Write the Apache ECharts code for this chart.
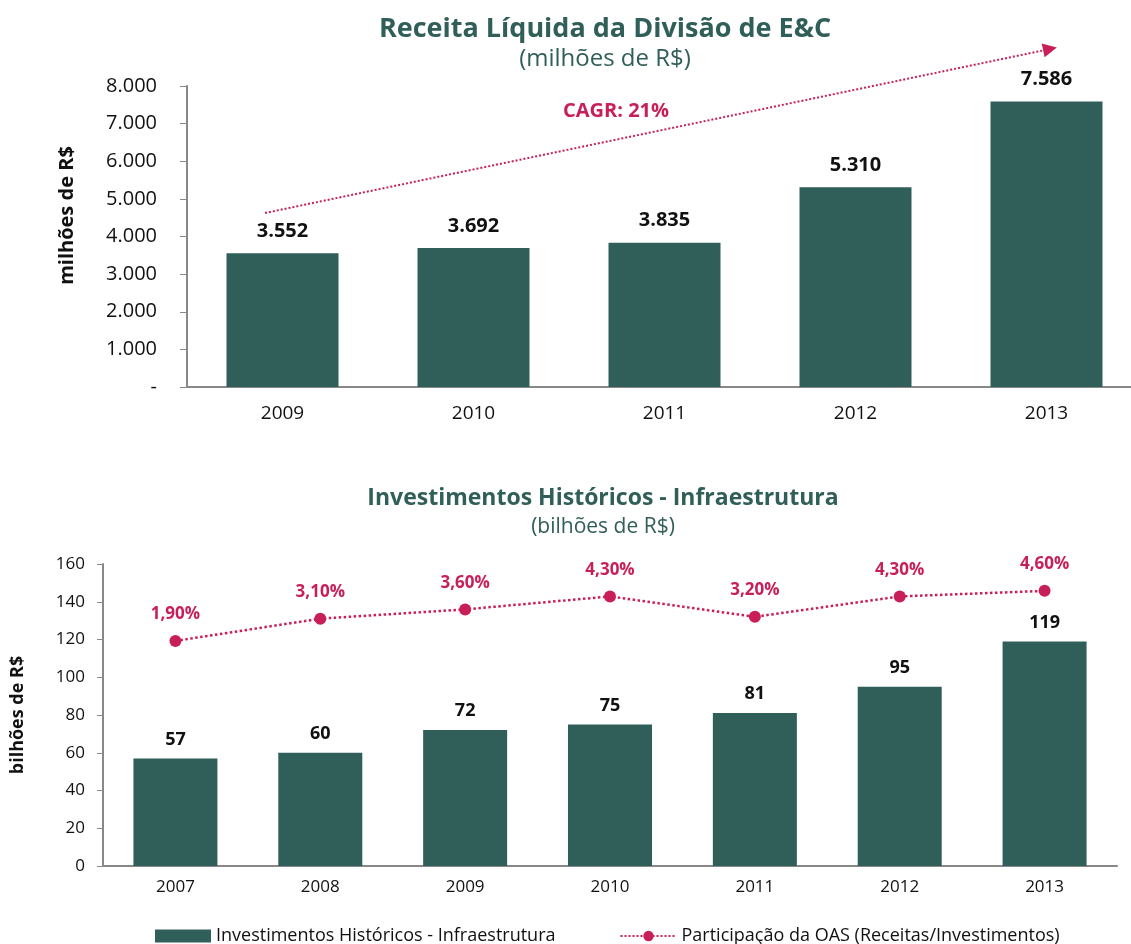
<!DOCTYPE html>
<html>
<head>
<meta charset="utf-8">
<script src="https://cdn.jsdelivr.net/npm/echarts@6/dist/echarts.min.js"></script>
<style>
  html, body { margin: 0; padding: 0; background: #fff; }
  #main { width: 1131px; height: 944px; }
</style>
</head>
<body>
<div id="main"></div>
<script>
// dados do gráfico de cima
var anosReceita = ['2009', '2010', '2011', '2012', '2013'];
var receita = [3552, 3692, 3835, 5310, 7586];

// dados do gráfico de baixo
var anosInvest = ['2007', '2008', '2009', '2010', '2011', '2012', '2013'];
var investimentos = [57, 60, 72, 75, 81, 95, 119];
var participacao = [1.9, 3.1, 3.6, 4.3, 3.2, 4.3, 4.6];

var verde = '#305E58';
var rosa = '#C81F5A';
var fonte = '"Open Sans", "DejaVu Sans", sans-serif';

function milhar(v) {
  if (v === 0) return '-';
  return String(v).replace(/\B(?=(\d{3})+(?!\d))/g, '.');
}

var myChart = echarts.init(document.getElementById('main'));
myChart.setOption({
  animation: false,
  textStyle: { fontFamily: fonte },
  title: [{
    text: 'Receita Líquida da Divisão de E&C',
    subtext: '(milhões de R$)',
    left: 600, top: 11, textAlign: 'center',
    itemGap: 4,
    textStyle: { color: verde, fontSize: 27, fontWeight: 'bold', fontFamily: fonte },
    subtextStyle: { color: verde, fontSize: 24, fontFamily: fonte }
  }, {
    text: 'Investimentos Históricos - Infraestrutura',
    subtext: '(bilhões de R$)',
    left: 598, top: 482, textAlign: 'center',
    itemGap: 7,
    textStyle: { color: verde, fontSize: 23, fontWeight: 'bold', fontFamily: fonte },
    subtextStyle: { color: verde, fontSize: 21, fontFamily: fonte }
  }],
  legend: {
    top: 922, left: 150,
    itemGap: 64,
    textStyle: { fontSize: 18, color: '#111', fontFamily: fonte },
    data: [
      { name: 'Investimentos Históricos - Infraestrutura', icon: 'rect', itemStyle: { color: verde } },
      { name: 'Participação da OAS (Receitas/Investimentos)' }
    ],
    itemWidth: 56, itemHeight: 13
  },
  graphic: [{
    type: 'text', left: 563, top: 101,
    style: { text: 'CAGR: 21%', fill: rosa, font: 'bold 20px ' + fonte }
  }],
  grid: [
    { left: 187, width: 955, top: 86, height: 301, outerBoundsMode: 'none', containLabel: false },
    { left: 103, right: 14, top: 564, height: 302 }
  ],
  xAxis: [{
    type: 'category', gridIndex: 0, data: anosReceita,
    axisLine: { lineStyle: { color: '#888', width: 2 } },
    axisTick: { length: 7, lineStyle: { color: '#888' } },
    axisLabel: { color: '#111', fontSize: 19, margin: 17 }
  }, {
    type: 'category', gridIndex: 1, data: anosInvest,
    axisLine: { lineStyle: { color: '#888', width: 2 } },
    axisTick: { length: 6, lineStyle: { color: '#888' } },
    axisLabel: { color: '#111', fontSize: 17, margin: 13 }
  }],
  yAxis: [{
    type: 'value', gridIndex: 0, min: 0, max: 8000, interval: 1000,
    name: 'milhões de R$', nameLocation: 'middle', nameGap: 110, nameRotate: 90,
    nameTextStyle: { color: '#111', fontSize: 20, fontWeight: 'bold', padding: [0, 0, 0, 42] },
    axisLine: { show: true, lineStyle: { color: '#888', width: 2 } },
    axisTick: { show: true, length: 7, lineStyle: { color: '#888' } },
    splitLine: { show: false },
    axisLabel: { color: '#111', fontSize: 20, margin: 30, formatter: milhar }
  }, {
    type: 'value', gridIndex: 1, min: 0, max: 160, interval: 20,
    name: 'bilhões de R$', nameLocation: 'middle', nameGap: 76, nameRotate: 90,
    nameTextStyle: { color: '#111', fontSize: 18, fontWeight: 'bold' },
    axisLine: { show: true, lineStyle: { color: '#888', width: 2 } },
    axisTick: { show: true, length: 6, lineStyle: { color: '#888' } },
    splitLine: { show: false },
    axisLabel: { color: '#111', fontSize: 17, margin: 18 }
  }, {
    type: 'value', gridIndex: 1, min: -10.25, max: 6.05, show: false,
    splitLine: { show: false }
  }],
  series: [{
    name: 'Receita',
    type: 'bar', xAxisIndex: 0, yAxisIndex: 0,
    data: receita, barWidth: 112, clip: false,
    itemStyle: { color: verde },
    label: {
      show: true, position: 'top', distance: 12,
      color: '#111', fontSize: 20, fontWeight: 'bold',
      formatter: function (p) { return milhar(p.value); }
    },
    markLine: {
      silent: true,
      symbol: ['none', 'triangle'], symbolSize: 14,
      lineStyle: { color: rosa, type: 'dotted', width: 2 },
      label: { show: false },
      data: [[{ x: 265, y: 213 }, { x: 1050, y: 49 }]]
    }
  }, {
    name: 'Investimentos Históricos - Infraestrutura',
    type: 'bar', xAxisIndex: 1, yAxisIndex: 1,
    data: investimentos, barWidth: 84,
    itemStyle: { color: verde },
    label: {
      show: true, position: 'top', distance: 10,
      color: '#111', fontSize: 18, fontWeight: 'bold'
    }
  }, {
    name: 'Participação da OAS (Receitas/Investimentos)',
    type: 'line', xAxisIndex: 1, yAxisIndex: 2,
    data: participacao,
    symbol: 'circle', symbolSize: 12,
    itemStyle: { color: rosa },
    lineStyle: { color: rosa, type: 'dotted', width: 2.5 },
    label: {
      show: true, position: 'top', distance: 12,
      color: rosa, fontSize: 17, fontWeight: 'bold',
      formatter: function (p) { return p.value.toFixed(2).replace('.', ',') + '%'; }
    }
  }]
});
</script>
</body>
</html>
